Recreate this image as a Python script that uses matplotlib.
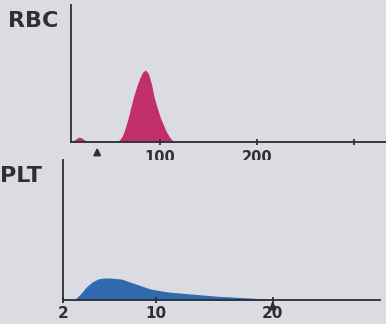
import matplotlib
matplotlib.use("Agg")
import matplotlib.pyplot as plt
import numpy as np

# ---- data ----
rbc_fl = [8, 10, 13, 16, 19, 22, 25, 28, 31, 34, 37, 40, 43, 46, 49, 52, 55, 58, 61, 64, 67,
          70, 73, 76, 79, 82, 85, 88, 91, 94, 97, 100, 103, 106, 109, 112, 115, 118]
rbc_count = [0, 1, 3, 5, 4, 2, 0.5, 0, 0, 0, 0, 0, 0, 0, 0, 0, 0.5, 2, 6, 14, 24,
             36, 47, 56, 64, 70, 72, 68, 58, 44, 34, 25, 18, 11, 6, 2, 0.5, 0]
rbc_ticks = [100, 200, 300]
rbc_ticklabels = ["100", "200", ""]
rbc_marker = 35

plt_fl = [3.0, 3.5, 4.0, 4.5, 5.0, 5.5, 6.0, 6.5, 7.0, 7.5, 8.0, 8.5, 9.0, 9.5, 10.0, 10.5,
          11.0, 11.5, 12.0, 12.5, 13.0, 13.5, 14.0, 14.5, 15.0, 15.5, 16.0, 16.5, 17.0,
          17.5, 18.0, 18.5, 19.0, 19.5, 20.0]
plt_count = [0.5, 6, 13, 18, 21, 22, 22, 21.5, 21, 19, 17, 15, 13, 11, 10, 9,
             8, 7.5, 7, 6.5, 6, 5.5, 5, 4.5, 4, 3.6, 3.3, 3, 2.6,
             2.3, 2, 1.6, 1.2, 0.8, 0.4]
plt_ticks = [2, 10, 20]
plt_ticklabels = ["2", "10", "20"]
plt_marker = 20

BG = "#dadce2"
INK = "#2e2e33"
RBC_COLOR = "#c1306c"
PLT_COLOR = "#2f6aae"

W, H = 386, 324
fig = plt.figure(figsize=(W / 100, H / 100), dpi=100, facecolor=BG)


def px_axes(left, top, right, bottom):
    return fig.add_axes([left / W, 1 - bottom / H, (right - left) / W, (bottom - top) / H])


def style(ax, labelsize):
    ax.set_facecolor(BG)
    for s in ("top", "right"):
        ax.spines[s].set_visible(False)
    for s in ("left", "bottom"):
        ax.spines[s].set_color(INK)
        ax.spines[s].set_linewidth(1.3)
    ax.tick_params(axis="y", left=False, labelleft=False)
    ax.tick_params(axis="x", direction="inout", length=5, width=1.3, color=INK,
                   labelcolor=INK, labelsize=labelsize, pad=3)
    for lab in ax.get_xticklabels():
        lab.set_fontweight("bold")


# ---- RBC ----
ax1 = px_axes(71, 5, 386, 142)
ax1.fill_between(rbc_fl, rbc_count, color=RBC_COLOR, linewidth=0)
ax1.set_xlim(8, 333)
ax1.set_ylim(0, 137)
ax1.set_xticks(rbc_ticks)
ax1.set_xticklabels(rbc_ticklabels)
style(ax1, 10.5)
ax1.annotate("", xy=(rbc_marker, -0.02), xycoords=("data", "axes fraction"),
             xytext=(0, -12), textcoords="offset pixels",
             arrowprops=dict(arrowstyle="-|>", color=INK, lw=1.5, mutation_scale=10))
fig.text(8 / W, 1 - 21 / H, "RBC", fontsize=16, fontweight="bold", color=INK,
         ha="left", va="center")

# ---- PLT ----
ax2 = px_axes(63, 160, 380, 300)
ax2.fill_between(plt_fl, plt_count, color=PLT_COLOR, linewidth=0)
ax2.set_xlim(2, 29.2)
ax2.set_ylim(0, 140)
ax2.set_xticks(plt_ticks)
ax2.set_xticklabels(plt_ticklabels)
style(ax2, 11)
ax2.tick_params(axis="x", pad=2)
ax2.annotate("", xy=(plt_marker, 0.01), xycoords=("data", "axes fraction"),
             xytext=(0, -8), textcoords="offset pixels",
             arrowprops=dict(arrowstyle="-|>", color=INK, lw=1.5, mutation_scale=10))
fig.text(0 / W, 1 - 176 / H, "PLT", fontsize=16, fontweight="bold", color=INK,
         ha="left", va="center")

fig.savefig("out.png", dpi=100, facecolor=BG)
